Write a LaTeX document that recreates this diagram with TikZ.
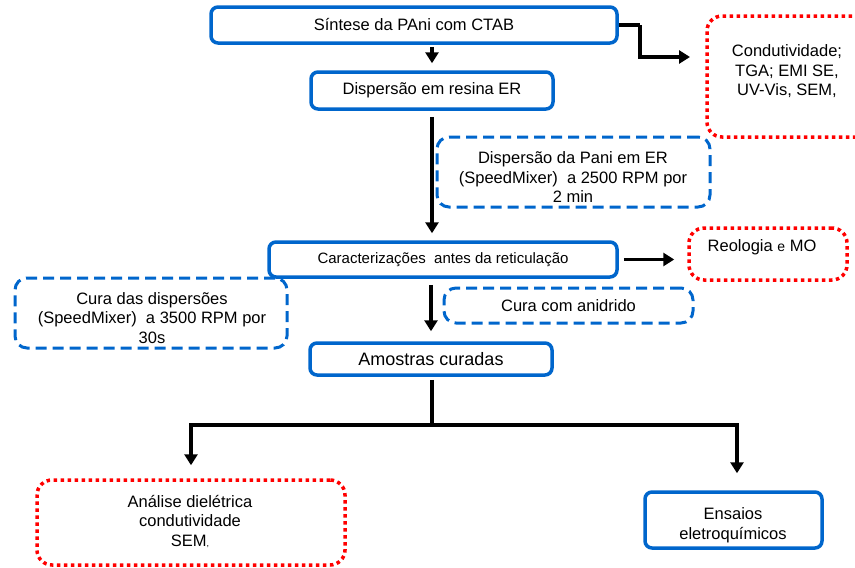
\documentclass[tikz,border=0pt]{standalone}
\usepackage{fontspec}
\setmainfont{Liberation Sans}
\usetikzlibrary{arrows.meta}
\definecolor{boxblue}{RGB}{0,102,204}
\definecolor{dotred}{RGB}{255,0,0}
\begin{document}
\begin{tikzpicture}[x=1pt,y=-1pt,
  basefont/.style={font=\fontsize{16.5}{19.5}\selectfont},
  solidbox/.style={draw=boxblue, line width=3.5pt, rounded corners=7pt, inner sep=0pt, align=center, basefont},
  dashbox/.style={draw=boxblue, line width=3pt, dash pattern=on 11pt off 6pt, rounded corners=12pt, inner sep=0pt, align=center, basefont},
  dotbox/.style={draw=dotred, line width=3.5pt, dash pattern=on 3.5pt off 3.5pt, rounded corners=15pt, inner sep=0pt, align=center, basefont},
  txt/.style={align=center, inner sep=0pt, basefont},
  arr/.style={line width=3.5pt, line join=miter, -{Triangle[length=11pt,width=13pt]}},
  plainline/.style={line width=3.5pt, line join=miter},
]
\useasboundingbox (0,0) rectangle (855,568);
\clip (0,0) rectangle (855,568);

% boxes
\node[solidbox, minimum width=406pt, minimum height=36pt] (b1) at (414,25) {Síntese da PAni com CTAB};
\node[solidbox, minimum width=242pt, minimum height=37pt] (b2) at (432,90.5) {Dispersão em resina ER};
\node[dotbox, minimum width=300pt, minimum height=121pt] (r1) at (857,76.5) {};
\node[txt] (r1t) at (787,71.5) {Condutividade;\\TGA; EMI SE,\\UV-Vis, SEM,};
\node[dashbox, minimum width=273pt, minimum height=70pt] (d1) at (573.5,172) {};
\node[txt] (d1t) at (573,177.5) {Dispersão da Pani em ER\\(SpeedMixer)\ \ a 2500 RPM por\\2 min};
\node[solidbox, minimum width=348pt, minimum height=35pt, font=\fontsize{15}{17}\selectfont] (b3) at (443,259.5) {Caracterizações\ \ antes da reticulação};
\node[dotbox, minimum width=158pt, minimum height=52pt] (r2) at (768,254) {};
\node[txt] (r2t) at (762,247) {Reologia {\fontsize{14}{15}\selectfont e} MO};
\node[dashbox, minimum width=272pt, minimum height=70pt] (d2) at (151,313) {};
\node[txt] (d2t) at (152,318) {Cura das dispersões\\(SpeedMixer)\ \ a 3500 RPM por\\30s};
\node[dashbox, minimum width=249pt, minimum height=35pt] (d3) at (568.5,305.5) {Cura com anidrido};
\node[solidbox, minimum width=242pt, minimum height=32pt, font=\fontsize{18}{21}\selectfont] (b4) at (431,359) {Amostras curadas};
\node[dotbox, minimum width=308pt, minimum height=85pt] (r3) at (191,522.5) {};
\node[txt] (r3t) at (190,521) {Análise dielétrica\\condutividade\\SEM{\fontsize{9}{10}\selectfont ,}};
\node[solidbox, minimum width=177pt, minimum height=56pt] (b5) at (733.5,520) {};
\node[txt] (b5t) at (733,525) {Ensaios\\eletroquímicos};

% connectors
\coordinate (e1) at (640,25);
\coordinate (e2) at (690,57);
\coordinate (j) at (432,425);
\draw[arr, shorten <=2pt, shorten >=7pt] (b1.south -| b2.north) -- (b2.north);
\draw[plainline] (b1.east) -- (e1);
\draw[arr] (e1) |- (e2);
\draw[arr, shorten <=6pt, shorten >=7pt] (b2.south) -- (b2.south |- b3.north);
\draw[arr, shorten <=5pt, shorten >=13pt] (b3.east) -- (b3.east -| r2.west);
\draw[arr, shorten <=6pt, shorten >=10pt] (b3.south -| b4.north) -- (b4.north);
\draw[plainline, shorten <=3pt] (b4.south -| j) -- (j);
\draw[arr, shorten >=13pt] (j) -| (r3.north);
\draw[arr, shorten >=17pt] (j) -| ([xshift=3.5pt]b5.north);
\end{tikzpicture}
\end{document}
